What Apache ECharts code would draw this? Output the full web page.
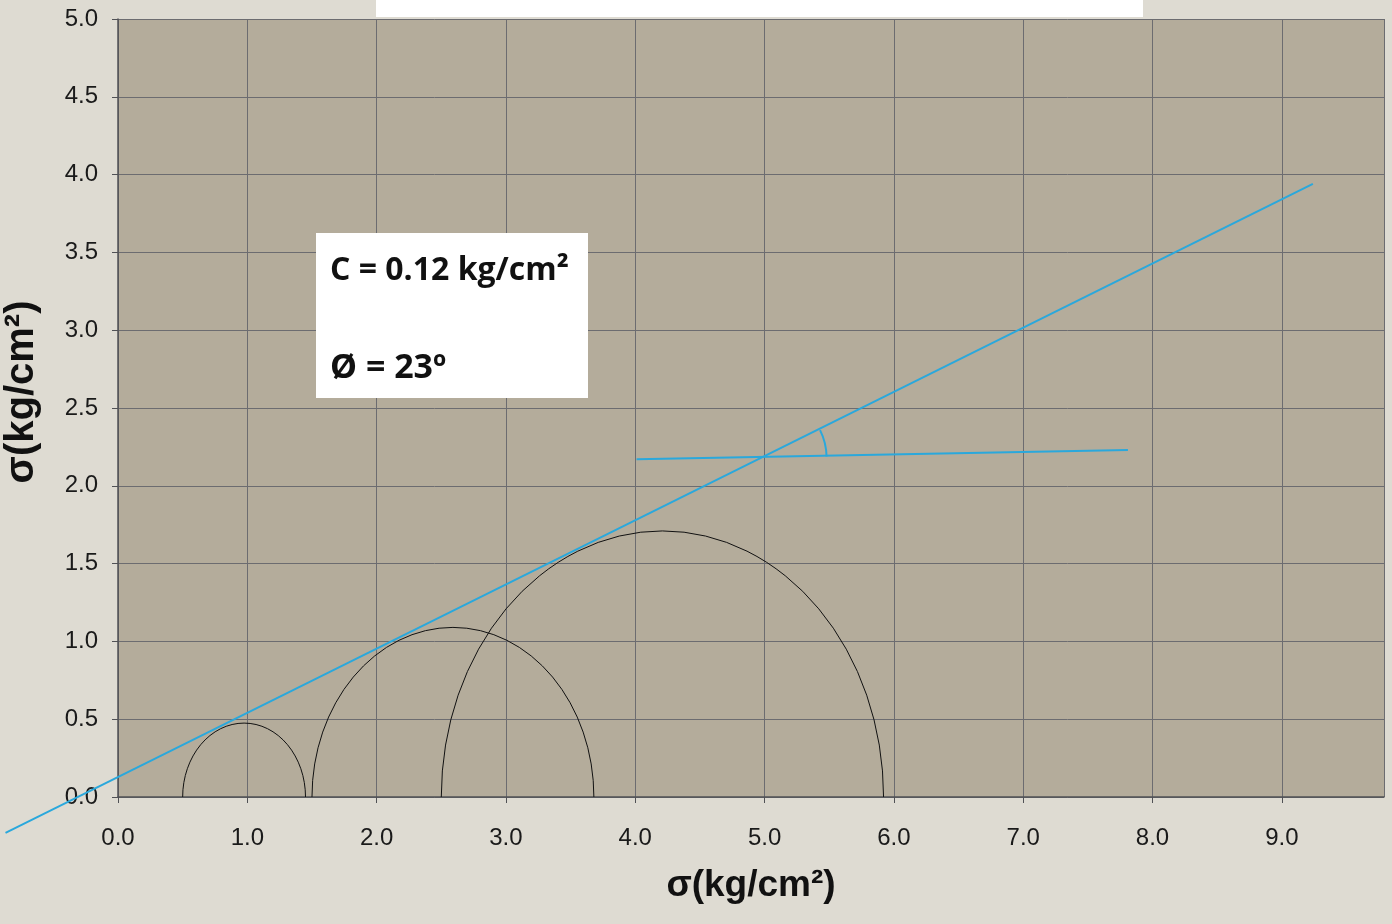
<!DOCTYPE html>
<html>
<head>
<meta charset="utf-8">
<script src="https://cdn.jsdelivr.net/npm/echarts@6/dist/echarts.min.js"></script>
<style>
  html, body { margin: 0; padding: 0; background: #dedbd2; }
  #chart { width: 1392px; height: 924px; }
</style>
</head>
<body>
<div id="chart"></div>
<script>
  // failure envelope (tau = c + sigma * tan(phi))
  const envelopeX = [-0.87, 9.24];
  const envelopeY = [-0.23, 3.94];
  // horizontal reference line used to show the angle
  const refLineX = [4.01, 7.81];
  const refLineY = [2.17, 2.23];
  // Mohr circles: centre on the sigma axis and radius
  const circleCenter = [0.975, 2.59, 4.21];
  const circleRadius = [0.475, 1.09, 1.71];
  // where the two blue lines cross (angle mark)
  const angleVertex = [5.0, 2.18];

  const xTicks = [0, 1, 2, 3, 4, 5, 6, 7, 8, 9];
  const yTicks = [0, 0.5, 1, 1.5, 2, 2.5, 3, 3.5, 4, 4.5, 5];

  const blue = '#2aa8dc';
  const labelFont = 'Liberation Sans, Arial, sans-serif';
  const boxFont = '"Open Sans", sans-serif';

  const chart = echarts.init(document.getElementById('chart'));

  // straight segment between two data points, drawn outside the grid too
  const segment = (xs, ys) => ({
    type: 'custom',
    clip: false,
    data: [[xs[0], ys[0], xs[1], ys[1]]],
    renderItem: (params, api) => {
      const p1 = api.coord([api.value(0), api.value(1)]);
      const p2 = api.coord([api.value(2), api.value(3)]);
      return {
        type: 'line',
        shape: { x1: p1[0], y1: p1[1], x2: p2[0], y2: p2[1] },
        style: { stroke: blue, lineWidth: 2 },
      };
    },
    z: 4,
  });

  const option = {
    animation: false,
    backgroundColor: '#dedbd2',
    grid: {
      left: 118,
      top: 19,
      right: 8,
      bottom: 127,
      containLabel: false,
      outerBoundsMode: 'none',
      show: true,
      backgroundColor: '#b4ac9b',
      borderWidth: 0,
    },
    xAxis: {
      type: 'value',
      min: xTicks[0],
      max: 9.79,
      interval: 1,
      name: 'σ(kg/cm²)',
      nameLocation: 'middle',
      nameGap: 70,
      nameTextStyle: {
        fontFamily: labelFont,
        fontWeight: 'bold',
        fontSize: 37,
        color: '#111',
      },
      axisLine: { show: true, lineStyle: { color: '#505155', width: 1.5 } },
      axisTick: { show: true, inside: false, length: 6, lineStyle: { color: '#505155' } },
      axisLabel: {
        showMaxLabel: false,
        margin: 29,
        fontFamily: labelFont,
        fontSize: 24,
        color: '#1a1a1a',
        formatter: (v) => v.toFixed(1),
      },
      splitLine: { show: true, lineStyle: { color: '#6c6c70', width: 1 } },
    },
    yAxis: {
      type: 'value',
      min: yTicks[0],
      max: yTicks[yTicks.length - 1],
      interval: 0.5,
      name: 'σ(kg/cm²)',
      nameLocation: 'middle',
      nameGap: 76,
      nameRotate: 90,
      nameTextStyle: {
        fontFamily: labelFont,
        fontWeight: 'bold',
        fontSize: 40,
        color: '#111',
        padding: [0, 0, 0, 32],
      },
      axisLine: { show: true, lineStyle: { color: '#505155', width: 1.5 } },
      axisTick: { show: true, inside: false, length: 6, lineStyle: { color: '#505155' } },
      axisLabel: {
        margin: 20,
        fontFamily: labelFont,
        fontSize: 24,
        color: '#1a1a1a',
        formatter: (v) => v.toFixed(1),
      },
      splitLine: { show: true, lineStyle: { color: '#6c6c70', width: 1 } },
    },
    graphic: [
      // white strip at the top (cut-off title box)
      {
        type: 'rect',
        left: 376,
        top: 0,
        shape: { width: 767, height: 17 },
        style: { fill: '#ffffff' },
        z: 100,
      },
      // C / phi note
      {
        type: 'rect',
        left: 316,
        top: 233,
        shape: { width: 272, height: 165 },
        style: { fill: '#ffffff' },
        z: 100,
      },
      {
        type: 'text',
        left: 330,
        top: 255,
        style: {
          text: 'C = 0.12 kg/cm²',
          font: 'bold 32px ' + boxFont,
          fill: '#111',
        },
        z: 101,
      },
      {
        type: 'text',
        left: 330,
        top: 351,
        style: {
          text: 'Ø = 23º',
          font: 'bold 34px ' + boxFont,
          fill: '#111',
        },
        z: 101,
      },
    ],
    series: [
      {
        name: 'circles',
        type: 'custom',
        clip: false,
        data: circleCenter.map((c, i) => [c, circleRadius[i]]),
        renderItem: (params, api) => {
          const c = api.value(0);
          const r = api.value(1);
          const left = api.coord([c - r, 0]);
          const right = api.coord([c + r, 0]);
          const top = api.coord([c, r]);
          const rx = (right[0] - left[0]) / 2;
          const ry = left[1] - top[1];
          return {
            type: 'path',
            shape: {
              pathData:
                'M' + left[0] + ' ' + left[1] +
                ' A' + rx + ' ' + ry + ' 0 0 1 ' + right[0] + ' ' + right[1],
            },
            style: { fill: 'none', stroke: '#111', lineWidth: 1 },
          };
        },
        z: 3,
      },
      Object.assign({ name: 'envelope' }, segment(envelopeX, envelopeY)),
      Object.assign({ name: 'reference' }, segment(refLineX, refLineY)),
      {
        name: 'angle',
        type: 'custom',
        clip: false,
        data: [angleVertex],
        renderItem: (params, api) => {
          const v = api.coord([api.value(0), api.value(1)]);
          const a = api.coord([envelopeX[1], envelopeY[1]]);
          const b = api.coord([refLineX[1], refLineY[1]]);
          const a1 = Math.atan2(a[1] - v[1], a[0] - v[0]);
          const a2 = Math.atan2(b[1] - v[1], b[0] - v[0]);
          return {
            type: 'arc',
            shape: { cx: v[0], cy: v[1], r: 62, startAngle: a1, endAngle: a2, clockwise: true },
            style: { fill: 'none', stroke: blue, lineWidth: 2 },
          };
        },
        z: 4,
      },
    ],
  };

  chart.setOption(option);
</script>
</body>
</html>
